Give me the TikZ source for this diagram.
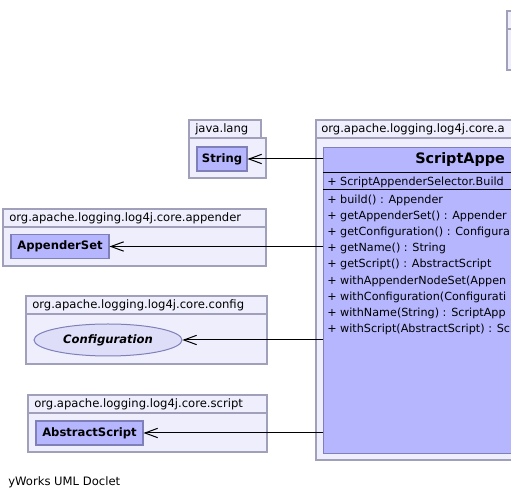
\documentclass[tikz,border=0pt]{standalone}
\usepackage{fontspec}
\setmainfont{DejaVu Sans}
\usepackage{tikz}
\usetikzlibrary{arrows.meta, shapes.geometric, positioning}
\definecolor{PkgFill}{RGB}{238,238,253}
\definecolor{PkgLine}{RGB}{160,160,186}
\definecolor{ClassFill}{RGB}{182,182,255}
\definecolor{ClassLine}{RGB}{128,128,184}
\definecolor{IfaceFill}{RGB}{222,222,248}
\tikzset{
  pkg/.style={draw=PkgLine, fill=PkgFill, line width=0.9pt},
  pkglabel/.style={anchor=west, inner sep=0pt, font=\fontsize{8.7}{10}\selectfont},
  cls/.style={draw=ClassLine, fill=ClassFill, line width=0.8pt, inner sep=0pt, font=\fontsize{8.7}{10}\selectfont\bfseries},
  iface/.style={ellipse, draw=ClassLine, fill=IfaceFill, line width=0.75pt, inner sep=0pt, font=\fontsize{8.7}{10}\selectfont\bfseries\itshape},
  member/.style={anchor=west, inner sep=0pt, font=\fontsize{8.4}{10}\selectfont},
  dep/.style={line width=0.75pt, -{Straight Barb[length=9.5pt, width=7pt]}},
}

\begin{document}
\begin{tikzpicture}[x=0.75pt, y=-0.75pt]
\useasboundingbox (0,0) rectangle (511,498);
\clip (0,0) rectangle (511,498);

% packages
\draw[pkg] (507,11) rectangle (600,29);
\draw[pkg] (507,29) rectangle (600,70);
\draw[pkg] (189,120) rectangle (261,138);
\draw[pkg] (189,138) rectangle (266,178);
\node[pkglabel] (langpkg) at (195,129) {java.lang};
\draw[pkg] (316,120) rectangle (760,138);
\draw[pkg] (316,138) rectangle (760,460);
\node[pkglabel] (selpkg) at (321,129) {org.apache.logging.log4j.core.a};
\draw[pkg] (3,209) rectangle (266,227);
\draw[pkg] (3,227) rectangle (266,266);
\node[pkglabel] (apppkg) at (9,218) {org.apache.logging.log4j.core.appender};
\draw[pkg] (26,296) rectangle (267,314);
\draw[pkg] (26,314) rectangle (267,364);
\node[pkglabel] (confpkg) at (32,305) {org.apache.logging.log4j.core.config};
\draw[pkg] (28,395) rectangle (267,413);
\draw[pkg] (28,413) rectangle (267,452);
\node[pkglabel] (scrpkg) at (34,404) {org.apache.logging.log4j.core.script};

% classes
\node[cls, minimum width=37.5pt, minimum height=18pt] (string) at (222,159) {String};
\node[cls, minimum width=73.5pt, minimum height=17.5pt] (appset) at (60,246.5) {AppenderSet};
\node[iface, minimum width=111pt, minimum height=24pt] (conf) at (108,340) {Configuration};
\node[cls, minimum width=80.25pt, minimum height=18pt] (ascript) at (89.5,433) {AbstractScript};

\node[cls, anchor=north west, minimum width=330pt, minimum height=229.5pt] (builder) at (323,147) {};
\node[anchor=west, inner sep=0pt, font=\fontsize{10.8}{12}\selectfont\bfseries] (title) at (415,160) {ScriptAppe};
\draw[line width=0.75pt] (323,173) -- (760,173);
\draw[line width=0.75pt] (323,190) -- (760,190);
\node[member] (ctor) at (327,182.5) {+ ScriptAppenderSelector.Build};
\foreach \m [count=\i] in {build() : Appender, getAppenderSet() : Appender,
    getConfiguration() : Configura, getName() : String,
    getScript() : AbstractScript, withAppenderNodeSet(Appen,
    withConfiguration(Configurati, withName(String) : ScriptApp,
    withScript(AbstractScript) : Sc}
  \node[member] (m\i) at (327,{200+16.2*(\i-1)}) {+ \m};

% dependencies
\draw[dep] (builder.west |- string) -- (string);
\draw[dep] (builder.west |- appset) -- (appset);
\draw[dep] (builder.west |- conf) -- (conf);
\draw[dep] (builder.west |- ascript) -- (ascript);

\node[pkglabel] (doclet) at (8,482) {yWorks UML Doclet};
\end{tikzpicture}
\end{document}
